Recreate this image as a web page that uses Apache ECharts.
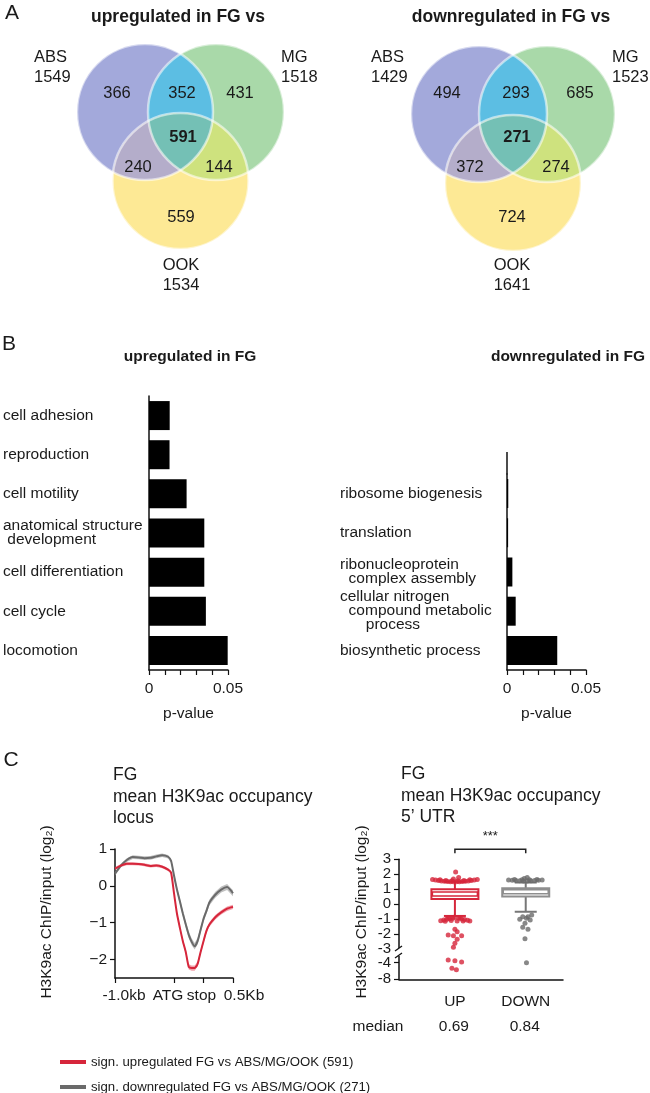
<!DOCTYPE html>
<html><head><meta charset="utf-8">
<script src="https://cdn.jsdelivr.net/npm/echarts@6.0.0/dist/echarts.min.js"></script>
<style>html,body{margin:0;padding:0;background:#fff}#c{width:650px;height:1093px}</style>
</head><body><div id="c"></div>
<script>
// ================= DATA =================
// Panel A – Venn diagrams (regions: ABS only, MG only, OOK only, ABS∩MG, ABS∩OOK, MG∩OOK, all three)
const vennSetNames = ['ABS', 'MG', 'OOK'];
const vennUpTotals = [1549, 1518, 1534];
const vennUpCounts = [366, 431, 559, 352, 240, 144, 591];
const vennDownTotals = [1429, 1523, 1641];
const vennDownCounts = [494, 685, 724, 293, 372, 274, 271];

// Panel B – GO terms
const goUpTerms = ['cell adhesion', 'reproduction', 'cell motility', 'anatomical structure\n development', 'cell differentiation', 'cell cycle', 'locomotion'];
const goUpP = [0.0131, 0.0130, 0.0238, 0.0350, 0.0350, 0.0360, 0.0498];
const goDownTerms = ['ribosome biogenesis', 'translation', 'ribonucleoprotein\n  complex assembly', 'cellular nitrogen\n  compound metabolic\n      process', 'biosynthetic process'];
const goDownP = [0.0008, 0.0007, 0.0034, 0.0055, 0.0318];

// Panel C – metagene profile (x in bins: 0 = -1.0kb, 20 = ATG, 30 = stop, 40 = +0.5kb)
const profileBins = [0, 2, 4, 6, 8, 10, 12, 14, 16, 18, 19, 20, 21, 22, 23, 24, 25, 26, 27, 28, 29, 30, 31, 32, 34, 36, 38, 40];
const profileUp   = [0.47, 0.55, 0.60, 0.60, 0.59, 0.57, 0.54, 0.55, 0.52, 0.44, 0.36, -0.20, -0.75, -1.14, -1.50, -1.80, -2.20, -2.23, -2.23, -2.12, -1.80, -1.50, -1.22, -1.05, -0.85, -0.72, -0.62, -0.57];
const profileDown = [0.33, 0.55, 0.70, 0.78, 0.77, 0.75, 0.76, 0.80, 0.83, 0.79, 0.68, 0.28, -0.10, -0.42, -0.75, -1.05, -1.33, -1.52, -1.64, -1.50, -1.20, -0.90, -0.68, -0.45, -0.24, -0.10, -0.03, -0.20];
const semUp   = [0.04, 0.04, 0.04, 0.04, 0.04, 0.04, 0.04, 0.04, 0.04, 0.04, 0.04, 0.05, 0.05, 0.06, 0.06, 0.06, 0.07, 0.07, 0.07, 0.07, 0.06, 0.06, 0.06, 0.06, 0.06, 0.06, 0.06, 0.06];
const semDown = [0.05, 0.05, 0.05, 0.05, 0.05, 0.05, 0.05, 0.05, 0.05, 0.05, 0.05, 0.06, 0.07, 0.08, 0.08, 0.08, 0.09, 0.09, 0.09, 0.09, 0.08, 0.08, 0.08, 0.08, 0.08, 0.08, 0.08, 0.08];
const profileTickPos = [0, 20, 30, 40];
const profileTickLabels = ['-1.0kb', 'ATG', 'stop', '0.5Kb'];
const profileYTicks = [-2, -1, 0, 1];
const seriesNames = ['sign. upregulated FG vs ABS/MG/OOK (591)', 'sign. downregulated FG vs ABS/MG/OOK (271)'];

// Panel C – 5'UTR box plot  [lower whisker, Q1, median, Q3, upper whisker]
const boxCats = ['UP', 'DOWN'];
const boxStats = [[-0.78, 0.35, 0.69, 1.00, 1.50], [-0.50, 0.51, 0.84, 1.07, 1.45]];
const boxMedianText = ['0.69', '0.84'];
const boxYTicks = [3, 2, 1, 0, -1, -2, -3, -4, -8];
// outliers: [horizontal position on the x scale (swarm), value]
const upOutliers = [
  [0.45,1.66],[0.49,1.62],[0.53,1.59],[0.57,1.56],[0.61,1.54],[0.65,1.52],[0.69,1.51],[0.73,1.50],[0.77,1.50],[0.81,1.51],[0.85,1.52],[0.89,1.54],[0.93,1.56],[0.97,1.59],[1.01,1.62],[1.05,1.66],
  [0.55,1.64],[0.63,1.59],[0.71,1.57],[0.79,1.57],[0.87,1.59],[0.95,1.64],
  [0.76,2.16],[0.80,1.78],[0.73,1.68],
  [0.56,-1.10],[0.60,-1.05],[0.64,-1.00],[0.68,-0.96],[0.72,-0.93],[0.80,-0.94],[0.84,-0.98],[0.88,-1.02],[0.92,-1.07],[0.95,-1.12],
  [0.62,-1.14],[0.70,-1.09],[0.78,-1.11],[0.86,-1.11],[0.66,-0.88],[0.74,-0.86],[0.82,-0.88],
  [0.75,-1.67],[0.78,-1.83],[0.66,-2.05],[0.73,-2.10],[0.84,-2.10],[0.78,-2.33],[0.75,-2.60],[0.73,-2.87],
  [0.66,-3.80],[0.75,-3.85],[0.84,-3.95],[0.71,-5.35],[0.77,-5.70]
];
const downOutliers = [
  [1.47,1.62],[1.52,1.60],[1.57,1.58],[1.62,1.57],[1.67,1.56],[1.72,1.56],[1.77,1.57],[1.82,1.58],[1.87,1.60],[1.92,1.62],
  [1.55,1.66],[1.65,1.63],[1.75,1.63],[1.85,1.66],[1.72,1.78],[1.68,1.72],
  [1.66,-0.83],[1.73,-0.83],[1.78,-0.71],[1.62,-1.00],[1.71,-0.93],[1.76,-1.05],[1.69,-1.27],[1.66,-1.53],[1.73,-1.67],[1.69,-2.30],[1.71,-4.00]
];

// ================= LAYOUT / STYLE =================
const FONT = '"Liberation Sans", Arial, Helvetica, sans-serif';
const TXT = '#1a1a1a';
const RED = '#d6263b', GRAY = '#6a6a6a';
const vennColors = ['#a3a9db', '#a9d9a9', '#fde995', '#5cbee3', '#b4adca', '#cee27e', '#74c0b5'];
const boxPos = [0.75, 1.70];

// broken-axis transform for the box plot
function tf(v) { if (v >= -3) return v; if (v >= -4) return -3 + (v + 3) * 0.9; return -3.9 + (v + 4) * 0.277; }

const chart = echarts.init(document.getElementById('c'), null, { renderer: 'canvas', width: 650, height: 1093 });

function T(x, y, text, o) {
  o = o || {};
  const st = { text: text, fontSize: o.size || 15.5, fontWeight: o.bold ? 'bold' : 'normal', fontFamily: FONT, fill: o.color || TXT, align: o.align || 'center', verticalAlign: 'middle' };
  if (o.lh) st.lineHeight = o.lh;
  return { type: 'text', x: x, y: y, z: 50, rotation: o.rot || 0, style: st };
}

// polygon outline of the intersection of several equal-radius disks (star-shaped from an inner point)
function diskIntersection(centers, r) {
  const g = [0, 0];
  centers.forEach(c => { g[0] += c[0] / centers.length; g[1] += c[1] / centers.length; });
  const pts = [];
  const N = 240;
  for (let k = 0; k < N; k++) {
    const a = 2 * Math.PI * k / N, u = [Math.cos(a), Math.sin(a)];
    let tmin = Infinity;
    centers.forEach(c => {
      const w = [g[0] - c[0], g[1] - c[1]];
      const b = u[0] * w[0] + u[1] * w[1];
      const cc = w[0] * w[0] + w[1] * w[1] - r * r;
      const t = -b + Math.sqrt(b * b - cc);
      if (t < tmin) tmin = t;
    });
    pts.push([g[0] + tmin * u[0], g[1] + tmin * u[1]]);
  }
  return pts;
}
function venn(centers, r, counts, totals, lay) {
  const els = [];
  centers.forEach((c, i) => els.push({ type: 'circle', z: 10, shape: { cx: c[0], cy: c[1], r: r }, style: { fill: vennColors[i] } }));
  [[0, 1, 3], [0, 2, 4], [1, 2, 5]].forEach(([i, j, k]) => {
    els.push({ type: 'polygon', z: 11, shape: { points: diskIntersection([centers[i], centers[j]], r) }, style: { fill: vennColors[k] } });
  });
  els.push({ type: 'polygon', z: 12, shape: { points: diskIntersection(centers, r) }, style: { fill: vennColors[6] } });
  centers.forEach(c => els.push({ type: 'circle', z: 13, shape: { cx: c[0], cy: c[1], r: r }, style: { fill: 'none', stroke: 'rgba(255,255,255,0.55)', lineWidth: 2.5 } }));
  counts.forEach((n, i) => els.push(T(lay.regions[i][0], lay.regions[i][1], String(n), { size: 16.5, bold: i === 6 })));
  els.push(T(lay.abs[0], lay.abs[1], vennSetNames[0] + '\n' + totals[0], { size: 16.5, align: 'left', lh: 20 }));
  els.push(T(lay.mg[0], lay.mg[1], vennSetNames[1] + '\n' + totals[1], { size: 16.5, align: 'left', lh: 20 }));
  els.push(T(lay.ook[0], lay.ook[1], vennSetNames[2] + '\n' + totals[2], { size: 16.5, lh: 20 }));
  return els;
}

let graphics = [];
graphics.push(T(12, 13, 'A', { size: 21, align: 'center' }));
graphics.push(T(178, 17, 'upregulated in FG vs', { size: 17.5, bold: true }));
graphics.push(T(511, 17, 'downregulated in FG vs', { size: 17.5, bold: true }));
graphics = graphics.concat(venn([[145, 112], [216, 112], [180.5, 181]], 68, vennUpCounts, vennUpTotals,
  { regions: [[117, 93], [240, 93], [181, 217], [182, 93], [138, 167], [219, 167], [183, 137]], abs: [34, 67], mg: [281, 67], ook: [181, 275] }));
graphics = graphics.concat(venn([[479, 114], [547, 114], [513, 183]], 68, vennDownCounts, vennDownTotals,
  { regions: [[447, 93], [580, 93], [512, 217], [516, 93], [470, 167], [556, 167], [517, 137]], abs: [371, 67], mg: [612, 67], ook: [512, 275] }));

graphics.push(T(9, 344, 'B', { size: 21 }));
graphics.push(T(190, 357, 'upregulated in FG', { size: 15.5, bold: true }));
graphics.push(T(568, 357, 'downregulated in FG', { size: 15.5, bold: true }));
graphics.push({ type: 'line', z: 5, shape: { x1: 507, y1: 452, x2: 507, y2: 474.5 }, style: { stroke: '#111', lineWidth: 1.5 } });

graphics.push(T(11, 760, 'C', { size: 21 }));
graphics.push(T(113, 797, 'FG\nmean H3K9ac occupancy\nlocus', { size: 17.5, align: 'left', lh: 21.5 }));
graphics.push(T(401, 796, 'FG\nmean H3K9ac occupancy\n5’ UTR', { size: 17.5, align: 'left', lh: 21.5 }));
graphics.push(T(47, 912, 'H3K9ac ChIP/input (log₂)', { size: 15.5, rot: Math.PI / 2 }));
graphics.push(T(362, 912, 'H3K9ac ChIP/input (log₂)', { size: 15.5, rot: Math.PI / 2 }));
graphics.push(T(378, 1027, 'median', { size: 15.5 }));

const labelShift = [9, -6, -2, 11];
const rich = {};
labelShift.forEach((s, i) => { rich['p' + i] = { fontSize: 15.5, fontFamily: FONT, color: TXT, padding: [0, s < 0 ? -2 * s : 0, 0, s > 0 ? 2 * s : 0] }; });

const axisLine = { show: true, onZero: false, lineStyle: { color: '#111', width: 1.5 } };
const tickStyle = { color: '#111', width: 1.2 };
const lbl = { fontSize: 15.5, fontFamily: FONT, color: TXT };

function barXAxis(grid) {
  return {
    gridIndex: grid, type: 'value', min: 0, max: 0.05, interval: 0.01,
    axisLine: axisLine, axisTick: { show: true, length: 5, lineStyle: tickStyle }, splitLine: { show: false },
    axisLabel: Object.assign({ margin: 11, formatter: v => v === 0 ? '0' : (Math.abs(v - 0.05) < 1e-9 ? '0.05' : '') }, lbl),
    name: 'p-value', nameLocation: 'middle', nameGap: 36, nameTextStyle: lbl
  };
}
function barYAxis(grid, data, margin) {
  return {
    gridIndex: grid, type: 'category', inverse: true, data: data,
    axisLine: axisLine, axisTick: { show: false },
    axisLabel: Object.assign({ interval: 0, align: 'left', margin: margin, lineHeight: 14 }, lbl)
  };
}

const yMin = tf(-8);
const boxLabelTicks = boxYTicks.map(tf);
const option = {
  animation: false,
  backgroundColor: '#fff',
  grid: [
    { left: 148, top: 396, width: 80, height: 274 },
    { left: 507, top: 474, width: 79, height: 196 },
    { left: 115, top: 849, width: 118, height: 129 },
    { left: 399, top: 859.3, width: 164, height: 120 }
  ],
  xAxis: [
    barXAxis(0), barXAxis(1),
    {
      gridIndex: 2, type: 'value', min: 0, max: 40, axisLine: axisLine, splitLine: { show: false },
      axisTick: { show: true, length: 5, lineStyle: tickStyle, customValues: profileTickPos },
      axisLabel: { customValues: profileTickPos, margin: 10, rich: rich, formatter: v => { const i = profileTickPos.indexOf(v); return i < 0 ? '' : '{p' + i + '|' + profileTickLabels[i] + '}'; } }
    },
    {
      gridIndex: 3, type: 'value', min: 0, max: 2.2, axisLine: axisLine, splitLine: { show: false }, axisTick: { show: false },
      axisLabel: Object.assign({ customValues: boxPos, margin: 14, formatter: v => { const i = boxPos.findIndex(p => Math.abs(p - v) < 1e-6); return i < 0 ? '' : boxCats[i]; } }, lbl)
    }
  ],
  yAxis: [
    barYAxis(0, goUpTerms, 146),
    barYAxis(1, goDownTerms, 167),
    {
      gridIndex: 2, type: 'value', min: -2.5, max: 1, axisLine: axisLine, splitLine: { show: false },
      axisTick: { show: true, length: 5, lineStyle: tickStyle, customValues: profileYTicks },
      axisLabel: Object.assign({ customValues: profileYTicks, margin: 8, formatter: v => v < 0 ? '−' + Math.abs(v) : String(v) }, lbl)
    },
    {
      gridIndex: 3, type: 'value', min: yMin, max: 3, axisLine: axisLine, splitLine: { show: false },
      axisTick: { show: true, length: 5, lineStyle: tickStyle, customValues: boxYTicks.filter(v => v !== -3).map(tf) },
      axisLabel: Object.assign({ customValues: boxLabelTicks, margin: 8, formatter: v => { const i = boxLabelTicks.findIndex(t => Math.abs(t - v) < 1e-6); return i < 0 ? '' : String(boxYTicks[i]); } }, lbl, { fontSize: 15 })
    }
  ],
  legend: {
    data: seriesNames, orient: 'vertical', left: 60, top: 1055, height: 60, padding: 0, itemWidth: 26, itemHeight: 4, itemGap: 11, icon: 'rect',
    selectedMode: false, textStyle: { fontSize: 13.2, fontFamily: FONT, color: TXT, lineHeight: 14 }
  },
  series: [
    { type: 'bar', xAxisIndex: 0, yAxisIndex: 0, data: goUpP, barWidth: 29, itemStyle: { color: '#000' } },
    { type: 'bar', xAxisIndex: 1, yAxisIndex: 1, data: goDownP, barWidth: 29, itemStyle: { color: '#000' } }
  ],
  graphic: graphics
};

// profile SEM bands (custom polygons through the axis scales) + mean lines
function band(vals, sem, color) {
  return {
    type: 'custom', xAxisIndex: 2, yAxisIndex: 2, silent: true, z: 1,
    data: [[profileBins[0], vals[0]]],
    renderItem: function (params, api) {
      const upper = profileBins.map((x, i) => api.coord([x, vals[i] + sem[i]]));
      const lower = profileBins.map((x, i) => api.coord([x, vals[i] - sem[i]])).reverse();
      return { type: 'polygon', shape: { points: upper.concat(lower) }, style: { fill: color } };
    }
  };
}
option.series.push(band(profileDown, semDown, 'rgba(150,150,150,0.6)'));
option.series.push(band(profileUp, semUp, 'rgba(232,90,105,0.55)'));
option.series.push({ name: seriesNames[1], type: 'line', xAxisIndex: 2, yAxisIndex: 2, z: 3, smooth: 0.2, showSymbol: false, color: GRAY, lineStyle: { width: 2, color: GRAY }, data: profileBins.map((x, i) => [x, profileDown[i]]) });
option.series.push({ name: seriesNames[0], type: 'line', xAxisIndex: 2, yAxisIndex: 2, z: 3, smooth: 0.2, showSymbol: false, color: RED, lineStyle: { width: 2, color: RED }, data: profileBins.map((x, i) => [x, profileUp[i]]) });

// box plot (custom) + outliers
const boxStroke = [RED, '#8e8e8e'], whiskStroke = [RED, '#777'];
option.series.push({
  type: 'custom', xAxisIndex: 3, yAxisIndex: 3, z: 3,
  data: boxStats.map((s, i) => [boxPos[i]].concat(s.map(tf))),
  renderItem: function (params, api) {
    const x = api.value(0), i = params.dataIndex;
    const py = k => api.coord([x, api.value(k)])[1];
    const cx = api.coord([x, 0])[0];
    const hw = 23.5, cap = 11;
    const ws = { stroke: whiskStroke[i], lineWidth: 2 };
    return { type: 'group', children: [
      { type: 'line', shape: { x1: cx, y1: py(4), x2: cx, y2: py(5) }, style: ws },
      { type: 'line', shape: { x1: cx, y1: py(2), x2: cx, y2: py(1) }, style: ws },
      { type: 'line', shape: { x1: cx - cap, y1: py(5), x2: cx + cap, y2: py(5) }, style: ws },
      { type: 'line', shape: { x1: cx - cap, y1: py(1), x2: cx + cap, y2: py(1) }, style: ws },
      { type: 'rect', shape: { x: cx - hw, y: py(4), width: 2 * hw, height: py(2) - py(4) }, style: { fill: '#fff', stroke: boxStroke[i], lineWidth: 2 } },
      { type: 'rect', shape: { x: cx - hw + 1, y: py(3) - 2, width: 2 * hw - 2, height: 4 }, style: { fill: '#fff', stroke: boxStroke[i], lineWidth: 1.5 } }
    ] };
  }
});
option.series.push({ type: 'scatter', xAxisIndex: 3, yAxisIndex: 3, symbolSize: 5, z: 4, itemStyle: { color: RED }, data: upOutliers.map(p => [p[0], tf(p[1])]) });
option.series.push({ type: 'scatter', xAxisIndex: 3, yAxisIndex: 3, symbolSize: 5, z: 4, itemStyle: { color: GRAY }, data: downOutliers.map(p => [p[0], tf(p[1])]) });

chart.setOption(option);

// second pass: annotations tied to the box plot scales
const extra = [];
const bx = boxPos.map(p => chart.convertToPixel({ gridIndex: 3 }, [p, 0])[0]);
const yBr = chart.convertToPixel({ gridIndex: 3 }, [0, 3.67])[1];
extra.push({ type: 'polyline', z: 20, shape: { points: [[bx[0], yBr + 4], [bx[0], yBr], [bx[1], yBr], [bx[1], yBr + 4]] }, style: { fill: 'none', stroke: '#222', lineWidth: 1.5 } });
extra.push(T((bx[0] + bx[1]) / 2, yBr - 13, '***', { size: 13 }));
boxMedianText.forEach((m, i) => extra.push(T(bx[i] - 1, 1027, m, { size: 15.5 })));
const ax = chart.convertToPixel({ gridIndex: 3 }, [0, 0])[0];
const yb1 = chart.convertToPixel({ gridIndex: 3 }, [0, -2.92])[1];
const yb2 = chart.convertToPixel({ gridIndex: 3 }, [0, -3.45])[1];
extra.push({ type: 'rect', z: 20, shape: { x: ax - 3, y: yb1, width: 6, height: yb2 - yb1 }, style: { fill: '#fff' } });
extra.push({ type: 'line', z: 21, shape: { x1: ax - 4, y1: yb1 + 3, x2: ax + 3, y2: yb1 - 2 }, style: { stroke: '#111', lineWidth: 1.3 } });
extra.push({ type: 'line', z: 21, shape: { x1: ax - 4, y1: yb2 + 2, x2: ax + 3, y2: yb2 - 3 }, style: { stroke: '#111', lineWidth: 1.3 } });
chart.setOption({ graphic: graphics.concat(extra) });
</script>
</body></html>
